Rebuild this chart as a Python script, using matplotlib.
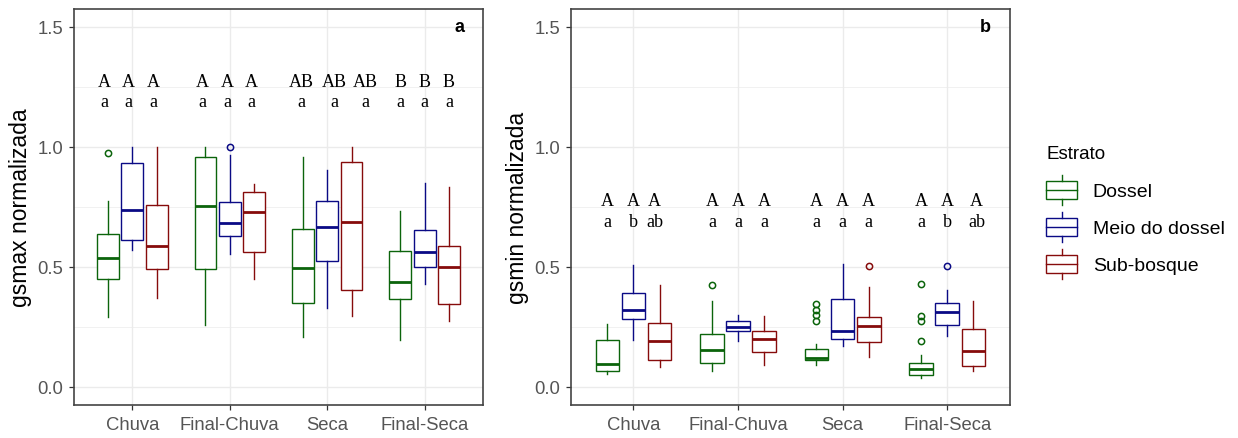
import numpy as np
import matplotlib.pyplot as plt
from matplotlib.lines import Line2D
from matplotlib.patches import Rectangle
from matplotlib.legend_handler import HandlerBase

plt.rcParams['font.family'] = ['Liberation Sans', 'DejaVu Sans']

periodos = ["Chuva", "Final-Chuva", "Seca", "Final-Seca"]
estratos = ["Dossel", "Meio do dossel", "Sub-bosque"]
cores = ["#0B640B", "#0A0A85", "#860B0B"]

# gsmax: one row per periodo, columns = Dossel, Meio do dossel, Sub-bosque
gsmax_whislo = [[0.29, 0.57, 0.37], [0.26, 0.555, 0.45], [0.21, 0.33, 0.295], [0.197, 0.43, 0.273]]
gsmax_q1 = [[0.451, 0.613, 0.492], [0.492, 0.631, 0.564], [0.351, 0.524, 0.405], [0.365, 0.499, 0.347]]
gsmax_med = [[0.537, 0.738, 0.589], [0.756, 0.682, 0.728], [0.495, 0.668, 0.689], [0.437, 0.561, 0.498]]
gsmax_q3 = [[0.638, 0.932, 0.758], [0.957, 0.772, 0.814], [0.659, 0.774, 0.939], [0.566, 0.654, 0.586]]
gsmax_whishi = [[0.774, 1.0, 1.0], [1.0, 0.966, 0.846], [0.959, 0.905, 0.998], [0.735, 0.848, 0.835]]
gsmax_fliers = [[[0.973], [], []], [[], [0.998], []], [[], [], []], [[], [], []]]
gsmax_maius = [["A", "A", "A"], ["A", "A", "A"], ["AB", "AB", "AB"], ["B", "B", "B"]]
gsmax_minus = [["a", "a", "a"], ["a", "a", "a"], ["a", "a", "a"], ["a", "a", "a"]]

# gsmin
gsmin_whislo = [[0.055, 0.197, 0.083], [0.067, 0.19, 0.09], [0.09, 0.171, 0.125], [0.039, 0.211, 0.065]]
gsmin_q1 = [[0.065, 0.284, 0.114], [0.1, 0.232, 0.146], [0.111, 0.198, 0.187], [0.051, 0.259, 0.086]]
gsmin_med = [[0.097, 0.319, 0.191], [0.153, 0.252, 0.198], [0.122, 0.232, 0.256], [0.073, 0.312, 0.15]]
gsmin_q3 = [[0.194, 0.392, 0.268], [0.219, 0.273, 0.233], [0.159, 0.365, 0.291], [0.101, 0.351, 0.24]]
gsmin_whishi = [[0.263, 0.509, 0.423], [0.36, 0.301, 0.294], [0.18, 0.513, 0.415], [0.132, 0.406, 0.36]]
gsmin_fliers = [[[], [], []], [[0.426], [], []],
                [[0.345, 0.322, 0.3, 0.275], [], [0.506]],
                [[0.428, 0.297, 0.275, 0.191], [0.506], []]]
gsmin_maius = [["A", "A", "A"], ["A", "A", "A"], ["A", "A", "A"], ["A", "A", "A"]]
gsmin_minus = [["a", "b", "ab"], ["a", "a", "a"], ["a", "a", "a"], ["a", "b", "ab"]]

# horizontal nudge of the letter labels (x units)
gsmax_nudge = [[-0.04, -0.04, -0.04], [-0.03, -0.03, -0.03], [-0.02, 0.07, 0.14], [0.0, 0.0, 0.0]]
gsmin_nudge = [[0.0, 0.0, -0.05], [0.0, 0.0, 0.0], [0.0, 0.0, 0.0], [0.0, 0.0, 0.03]]


class BoxKey(HandlerBase):
    def create_artists(self, legend, orig_handle, xdescent, ydescent, width, height, fontsize, trans):
        c = orig_handle.get_color()
        x0, y0 = -xdescent, -ydescent
        box = Rectangle((x0, y0 + height * 0.2), width, height * 0.6, fc='white', ec=c, lw=1.0, transform=trans)
        mid = Line2D([x0, x0 + width], [y0 + height / 2] * 2, color=c, lw=1.0, transform=trans)
        w1 = Line2D([x0 + width / 2] * 2, [y0, y0 + height * 0.2], color=c, lw=1.0, transform=trans)
        w2 = Line2D([x0 + width / 2] * 2, [y0 + height * 0.8, y0 + height], color=c, lw=1.0, transform=trans)
        return [box, mid, w1, w2]


def painel(ax, whislo, q1, med, q3, whishi, fliers, maius, minus, nudge, ylab, tag, y_mai, y_min):
    offs = [-0.25, 0.0, 0.25]
    for j in range(3):
        stats = []
        for i in range(4):
            stats.append(dict(med=med[i][j], q1=q1[i][j], q3=q3[i][j],
                              whislo=whislo[i][j], whishi=whishi[i][j], fliers=fliers[i][j]))
        pos = np.arange(1, 5) + offs[j]
        c = cores[j]
        ax.bxp(stats, positions=pos, widths=0.225, showcaps=False, patch_artist=True,
               boxprops=dict(facecolor='white', edgecolor=c, linewidth=1.0),
               medianprops=dict(color=c, linewidth=2.0),
               whiskerprops=dict(color=c, linewidth=1.0),
               flierprops=dict(marker='o', markerfacecolor='none', markeredgecolor=c,
                               markersize=4.5, markeredgewidth=1.1),
               manage_ticks=False, zorder=3)
        for i in range(4):
            xt = pos[i] + nudge[i][j]
            ax.text(xt, y_mai, maius[i][j], ha='center', va='baseline',
                    fontsize=13, family='Liberation Serif', zorder=4)
            ax.text(xt, y_min, minus[i][j], ha='center', va='baseline',
                    fontsize=13, family='Liberation Serif', zorder=4)

    ax.set_xlim(0.4, 4.6)
    ax.set_ylim(-0.075, 1.575)
    ax.set_xticks(range(1, 5))
    ax.set_xticklabels(periodos)
    ax.set_yticks([0.0, 0.5, 1.0, 1.5])
    ax.set_yticklabels(["0.0", "0.5", "1.0", "1.5"])
    ax.set_yticks([0.25, 0.75, 1.25], minor=True)
    ax.grid(True, which='major', color='#EBEBEB', linewidth=1.0, zorder=0)
    ax.grid(True, which='minor', axis='y', color='#EBEBEB', linewidth=0.5, zorder=0)
    ax.set_axisbelow(True)
    ax.tick_params(axis='both', which='major', length=3.6, width=0.9, color='#333333',
                   labelcolor='#555555', labelsize=13.3, pad=4)
    ax.tick_params(axis='y', which='minor', length=0)
    for s in ax.spines.values():
        s.set_color('#444444')
        s.set_linewidth(1.2)
    ax.set_ylabel(ylab, fontsize=16.5, labelpad=4)
    ax.text(4.36, 1.5, tag, ha='center', va='center', fontsize=13, fontweight='bold')


fig = plt.figure(figsize=(12.38, 4.39), dpi=100)
ax1 = fig.add_axes([74 / 1238, 33 / 439, 409 / 1238, 396 / 439])
ax2 = fig.add_axes([570.7 / 1238, 33 / 439, 439.3 / 1238, 396 / 439])

painel(ax1, gsmax_whislo, gsmax_q1, gsmax_med, gsmax_q3, gsmax_whishi, gsmax_fliers,
       gsmax_maius, gsmax_minus, gsmax_nudge, "gsmax normalizada", "a", 1.255, 1.169)
painel(ax2, gsmin_whislo, gsmin_q1, gsmin_med, gsmin_q3, gsmin_whishi, gsmin_fliers,
       gsmin_maius, gsmin_minus, gsmin_nudge, "gsmin normalizada", "b", 0.758, 0.672)

fig.text(1046 / 1238, 1 - 155 / 439, "Estrato", ha='left', va='center', fontsize=13.5)
handles = [Line2D([], [], color=c) for c in cores]
leg = fig.legend(handles, estratos, handler_map={Line2D: BoxKey()},
                 loc='upper left', bbox_to_anchor=(1046 / 1238, 1 - 176 / 439),
                 frameon=False, fontsize=14,
                 handlelength=1.6, handleheight=2.0, labelspacing=0.35,
                 handletextpad=0.8, borderpad=0, borderaxespad=0)

fig.savefig("out.png", dpi=100)
